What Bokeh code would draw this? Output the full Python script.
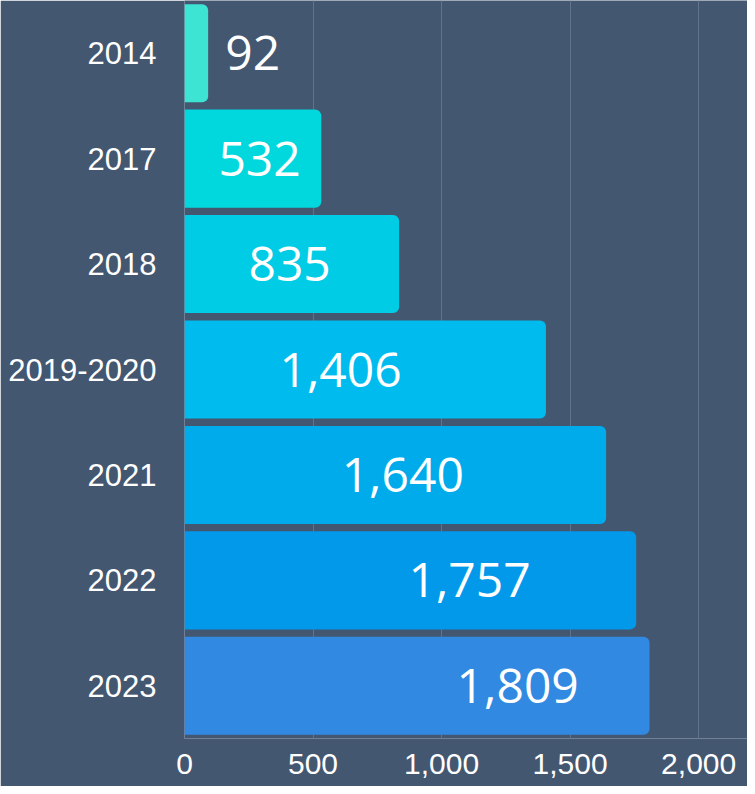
from bokeh.plotting import figure
from bokeh.models import ColumnDataSource, FactorRange, Range1d, FixedTicker, CustomJSTickFormatter
from bokeh.core.properties import value
from bokeh.embed import file_html
from bokeh.resources import INLINE

years = ["2014", "2017", "2018", "2019-2020", "2021", "2022", "2023"]
counts = [92, 532, 835, 1406, 1640, 1757, 1809]
value_labels = ["92", "532", "835", "1,406", "1,640", "1,757", "1,809"]
label_x = [265, 292, 409, 607, 849, 1109, 1296]
colors = ["#3de3d3", "#00d8dd", "#00cce6", "#00bbee", "#00abec", "#0299eb", "#3189e2"]
x_ticks = [0, 500, 1000, 1500, 2000]

bg = "#435771"

src = ColumnDataSource(dict(year=years, count=counts, lab=value_labels, lx=label_x, color=colors))

p = figure(
    width=747, height=786,
    y_range=FactorRange(*reversed(years), range_padding=0),
    x_range=Range1d(0, 2190),
    output_backend="svg", toolbar_location=None,
    min_border_left=184, min_border_right=0, min_border_top=0, min_border_bottom=48,
)
p.background_fill_color = bg
p.border_fill_color = bg
p.outline_line_color = None

p.hbar(y="year", right="count", left=0, height=0.93, color="color", line_color=None,
       border_radius=(0, 6, 6, 0), source=src)

p.text(x="lx", y="year", text="lab", source=src, text_color="white",
       text_font=value("Open Sans"), text_font_size="48px",
       text_align="center", text_baseline="middle")

p.xaxis.ticker = FixedTicker(ticks=x_ticks)
p.xaxis.formatter = CustomJSTickFormatter(code="return tick.toLocaleString('en-US');")
for ax in (p.xaxis[0], p.yaxis[0]):
    ax.axis_line_color = None
    ax.major_tick_line_color = None
    ax.minor_tick_line_color = None
    ax.major_label_text_color = "white"
    ax.major_label_text_font = "Liberation Sans"
    ax.major_label_text_font_size = "31px"
p.xaxis.major_label_text_font_size = "30px"
p.xaxis.major_label_standoff = 9
p.yaxis.major_label_standoff = 22

p.ygrid.grid_line_color = None
p.xgrid.ticker = FixedTicker(ticks=x_ticks)
p.xgrid.grid_line_color = "#61738b"
p.xgrid.grid_line_width = 1

open("out.html", "w").write(file_html(p, INLINE))
